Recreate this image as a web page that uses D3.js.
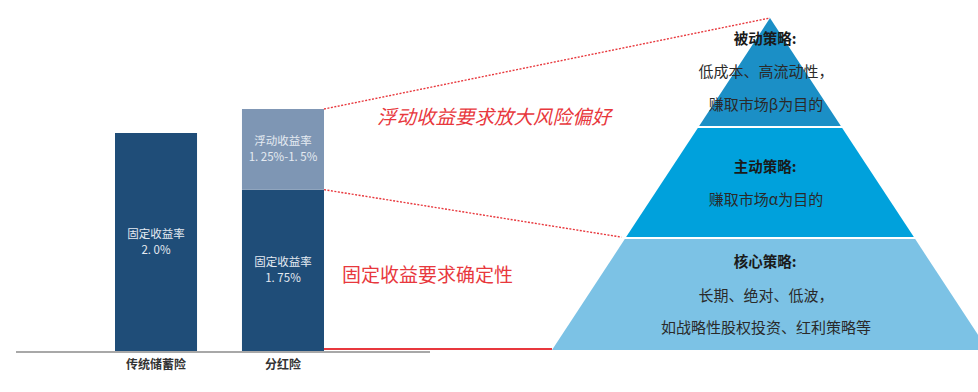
<!DOCTYPE html>
<html>
<head>
<meta charset="utf-8">
<title>分红险收益结构与投资策略</title>
<script src="https://d3js.org/d3.v7.min.js"></script>
<style>
  body { margin: 0; background: #fff; }
  text { font-family: "Noto Sans CJK SC", "Noto Sans", sans-serif; }
</style>
</head>
<body>
<script>
// bar chart data (drawn heights, labels carry the real rates)
var categories = ["传统储蓄险", "分红险"];
var fixedHeights = [2.0, 1.48];
var floatHeights = [0, 0.74];
var fixedLabels = [["固定收益率", "2. 0%"], ["固定收益率", "1. 75%"]];
var floatLabels = [null, ["浮动收益率", "1. 25%-1. 5%"]];

// pyramid tiers, top to bottom (fraction of pyramid height)
var tierNames = ["被动策略:", "主动策略:", "核心策略:"];
var tierLines = [
  ["低成本、高流动性，", "赚取市场β为目的"],
  ["赚取市场α为目的"],
  ["长期、绝对、低波，", "如战略性股权投资、红利策略等"]
];
var tierBounds = [0, 0.328, 0.663, 1];
var tierColors = ["#1b8fc6", "#00a1dc", "#7cc2e5"];

var noteTop = "浮动收益要求放大风险偏好";
var noteBottom = "固定收益要求确定性";

var W = 978, H = 392;
var svg = d3.select("body").append("svg")
  .attr("width", W).attr("height", H);

var x = d3.scaleBand().domain(categories).range([115, 324]).paddingInner(0.354);
var y = d3.scaleLinear().domain([0, 2.4]).range([351, 351 - 2.4 * 109]);

var bars = categories.map(function(c, i) {
  return { cat: c, fixed: fixedHeights[i], float: floatHeights[i] };
});

// fixed segment
svg.selectAll(".fixed").data(bars).enter().append("rect")
  .attr("class", "fixed")
  .attr("x", function(d) { return x(d.cat); })
  .attr("width", x.bandwidth())
  .attr("y", function(d) { return y(d.fixed); })
  .attr("height", function(d) { return y(0) - y(d.fixed); })
  .attr("fill", "#1f4d78");

// floating segment
svg.selectAll(".float").data(bars.filter(function(d) { return d.float > 0; }))
  .enter().append("rect")
  .attr("class", "float")
  .attr("x", function(d) { return x(d.cat); })
  .attr("width", x.bandwidth())
  .attr("y", function(d) { return y(d.fixed + d.float); })
  .attr("height", function(d) { return y(d.fixed) - y(d.fixed + d.float); })
  .attr("fill", "#7e96b4");

// two-line label centred on a segment
function barText(lines, cx, cy) {
  lines.forEach(function(s, k) {
    svg.append("text")
      .attr("x", cx)
      .attr("y", cy + (k - 0.5) * 16 + 4)
      .attr("text-anchor", "middle")
      .attr("fill", "#e4eaf1")
      .attr("font-size", 11.5)
      .text(s);
  });
}

bars.forEach(function(d, i) {
  var cx = x(d.cat) + x.bandwidth() / 2;
  barText(fixedLabels[i], cx, (y(0) + y(d.fixed)) / 2);
  if (floatLabels[i]) {
    barText(floatLabels[i], cx, (y(d.fixed) + y(d.fixed + d.float)) / 2);
  }
});

// baseline
svg.append("line")
  .attr("x1", 16).attr("x2", 430)
  .attr("y1", y(0) + 1).attr("y2", y(0) + 1)
  .attr("stroke", "#a8a8a8").attr("stroke-width", 2);

// category labels
svg.selectAll(".cat").data(categories).enter().append("text")
  .attr("class", "cat")
  .attr("x", function(d) { return x(d) + x.bandwidth() / 2; })
  .attr("y", 369)
  .attr("text-anchor", "middle")
  .attr("font-size", 12)
  .attr("font-weight", "bold")
  .attr("fill", "#333")
  .text(function(d) { return d; });

// pyramid
var apexX = 770, apexY = 18, baseY = 350, halfBase = 218;
var py = d3.scaleLinear().domain([0, 1]).range([apexY, baseY]);
var hw = d3.scaleLinear().domain([0, 1]).range([0, halfBase]);

var tiers = tierNames.map(function(n, i) {
  return { name: n, lines: tierLines[i], t0: tierBounds[i], t1: tierBounds[i + 1], color: tierColors[i] };
});

svg.selectAll(".tier").data(tiers).enter().append("path")
  .attr("class", "tier")
  .attr("d", function(d) {
    var gap = d.t0 === 0 ? 0 : 1;
    var a = py(d.t0) + gap, b = py(d.t1) - (d.t1 === 1 ? 0 : 1);
    var wa = hw((a - apexY) / (baseY - apexY)), wb = hw((b - apexY) / (baseY - apexY));
    return "M" + (apexX - wa) + "," + a + "L" + (apexX + wa) + "," + a +
      "L" + (apexX + wb) + "," + b + "L" + (apexX - wb) + "," + b + "Z";
  })
  .attr("fill", function(d) { return d.color; });

var tierTextY = [[39, 72, 105], [167, 200], [262, 296, 328]];
tiers.forEach(function(d, i) {
  svg.append("text")
    .attr("x", 765).attr("y", tierTextY[i][0] + 5)
    .attr("text-anchor", "middle")
    .attr("font-size", 14.5).attr("font-weight", "bold").attr("fill", "#1a1a1a")
    .text(d.name);
  d.lines.forEach(function(s, k) {
    svg.append("text")
      .attr("x", 766).attr("y", tierTextY[i][k + 1] + 5)
      .attr("text-anchor", "middle")
      .attr("font-size", 15).attr("fill", "#2a2a2a")
      .text(s);
  });
});

// connectors
var barRight = x(categories[1]) + x.bandwidth();
var red = "#e8383d";
svg.append("line")
  .attr("x1", barRight).attr("y1", y(fixedHeights[1] + floatHeights[1]))
  .attr("x2", apexX).attr("y2", apexY)
  .attr("stroke", red).attr("stroke-width", 1.4).attr("stroke-dasharray", "2,1.5");
svg.append("line")
  .attr("x1", barRight).attr("y1", y(fixedHeights[1]))
  .attr("x2", apexX - hw(tierBounds[2]) - 4).attr("y2", py(tierBounds[2]) - 1)
  .attr("stroke", red).attr("stroke-width", 1.4).attr("stroke-dasharray", "2,1.5");
svg.append("line")
  .attr("x1", barRight).attr("y1", 349)
  .attr("x2", apexX - halfBase).attr("y2", 349)
  .attr("stroke", red).attr("stroke-width", 1.8);

svg.append("text")
  .attr("x", 377).attr("y", 124)
  .attr("font-size", 19.5).attr("font-style", "italic").attr("fill", red)
  .text(noteTop);
svg.append("text")
  .attr("x", 342).attr("y", 282)
  .attr("font-size", 19).attr("fill", red)
  .text(noteBottom);
</script>
</body>
</html>
